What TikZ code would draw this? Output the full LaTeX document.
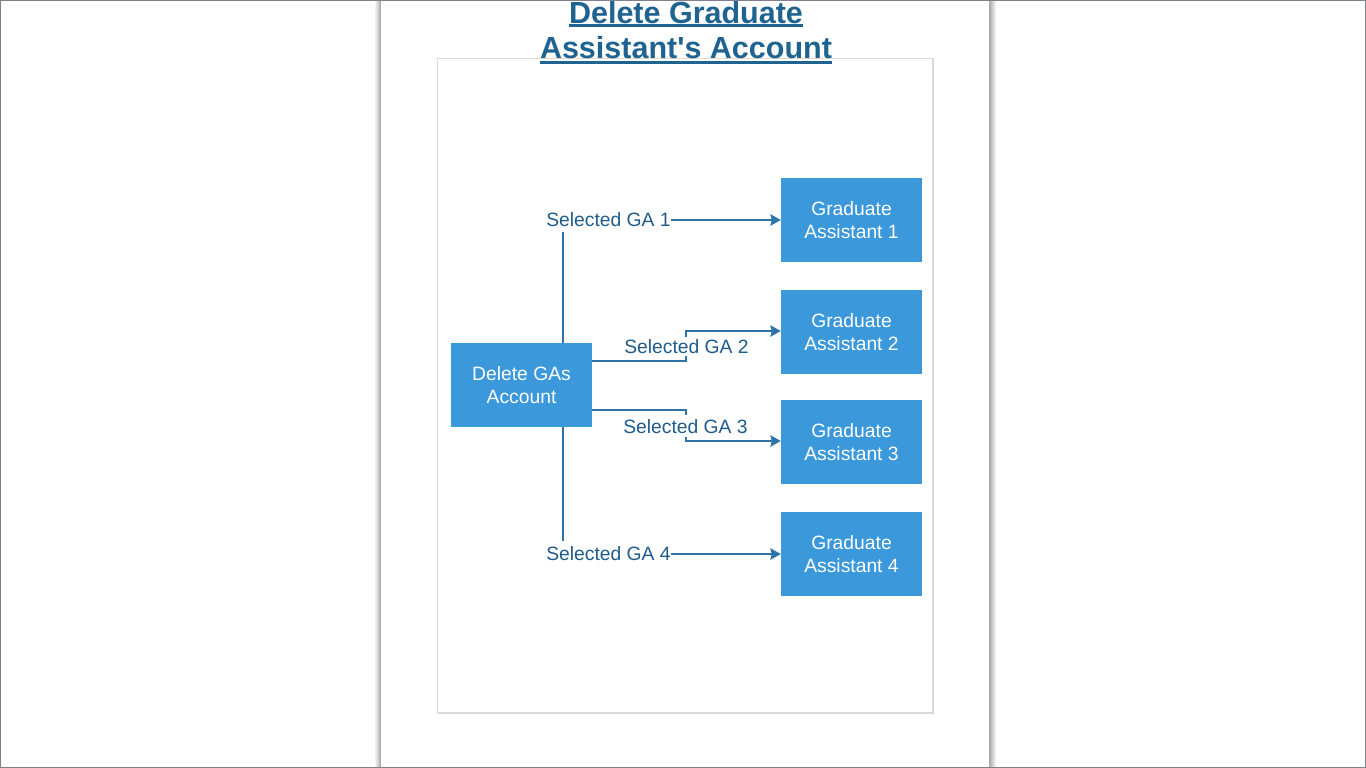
\documentclass[tikz,border=0pt]{standalone}
\usepackage{fontspec}
\setmainfont{Liberation Sans}
\usetikzlibrary{arrows.meta}
\definecolor{boxblue}{HTML}{3A98DB}
\definecolor{linkblue}{HTML}{2F74A8}
\definecolor{labelblue}{HTML}{1F5C8C}
\definecolor{titleblue}{HTML}{1F6391}
\definecolor{framegray}{HTML}{D9D9D9}
\definecolor{pagegray}{HTML}{A8A8A8}
\definecolor{outergray}{HTML}{80808C}
\begin{document}
\begin{tikzpicture}[x=1pt,y=-1pt,
  gabox/.style={fill=boxblue, text=white, minimum width=141pt, minimum height=84pt, inner sep=0pt, align=center, font=\fontsize{19.3}{23.5}\selectfont},
  sellabel/.style={text=labelblue, inner sep=0.5pt, font=\fontsize{19.3}{23}\selectfont},
  link/.style={draw=linkblue, line width=1.6pt},
  arr/.style={link, -{Stealth[length=10.5pt,width=11.5pt,inset=1.5pt]}},
  titletext/.style={text=titleblue, inner sep=0pt, anchor=base, font=\fontsize{30.5}{36}\selectfont\bfseries},
  uline/.style={draw=titleblue, line width=2.6pt}]
\useasboundingbox (0,0) rectangle (1366,768);
\fill[white] (0,0) rectangle (1366,768);
% page shadows and edges
\shade[left color=white, right color=black!30] (374,0) rectangle (380,768);
\shade[left color=black!30, right color=white] (990,0) rectangle (996,768);
\draw[pagegray, line width=1pt] (380.5,0) -- (380.5,768);
\draw[pagegray, line width=1pt] (989.5,0) -- (989.5,768);
% inner frame
\draw[framegray, line width=1.3pt] (437.5,58.5) rectangle (933,713);
% title
\node[titletext] (T1) at (686,23.5) {Delete Graduate};
\node[titletext] (T2) at (686,59) {Assistant\textquotesingle s Account};
\draw[uline] ([yshift=-2.3pt]T1.base west) -- ([yshift=-2.3pt]T1.base east);
\draw[uline] ([yshift=-3.3pt]T2.base west) -- ([yshift=-3.3pt]T2.base east);
% boxes
\node[gabox] (D) at (521.5,385) {Delete GAs\\Account};
\node[gabox] (G1) at (851.5,220) {Graduate\\Assistant 1};
\node[gabox] (G2) at (851.5,332) {Graduate\\Assistant 2};
\node[gabox] (G3) at (851.5,442) {Graduate\\Assistant 3};
\node[gabox] (G4) at (851.5,554) {Graduate\\Assistant 4};
% labels
\node[sellabel] (L1) at (608.5,220) {Selected GA 1};
\node[sellabel] (L2) at (686.5,347) {Selected GA 2};
\node[sellabel] (L3) at (685.5,427) {Selected GA 3};
\node[sellabel] (L4) at (608.5,554) {Selected GA 4};
% connector points
\coordinate (v1) at (563,232);
\coordinate (v4) at (563,541);
\coordinate (b2) at (686,361);
\coordinate (t2) at (686,356);
\coordinate (u2) at (686,337);
\coordinate (w2) at (686,331);
\coordinate (b3) at (686,410);
\coordinate (t3) at (686,415);
\coordinate (u3) at (686,437);
\coordinate (w3) at (686,441);
% connectors
\draw[link] (D.north -| v1) -- (v1);
\draw[arr] (L1.east) -- (G1.west |- L1.east);
\draw[link] (D.south -| v4) -- (v4);
\draw[arr] (L4.east) -- (G4.west |- L4.east);
\draw[link] (D.east |- b2) -- (b2) -- (t2);
\draw[arr] (u2) -- (w2) -- (G2.west |- w2);
\draw[link] (D.east |- b3) -- (b3) -- (t3);
\draw[arr] (u3) -- (w3) -- (G3.west |- w3);
% outer border
\draw[outergray, line width=1pt] (0.5,0.5) rectangle (1365.5,767.5);
\end{tikzpicture}
\end{document}
